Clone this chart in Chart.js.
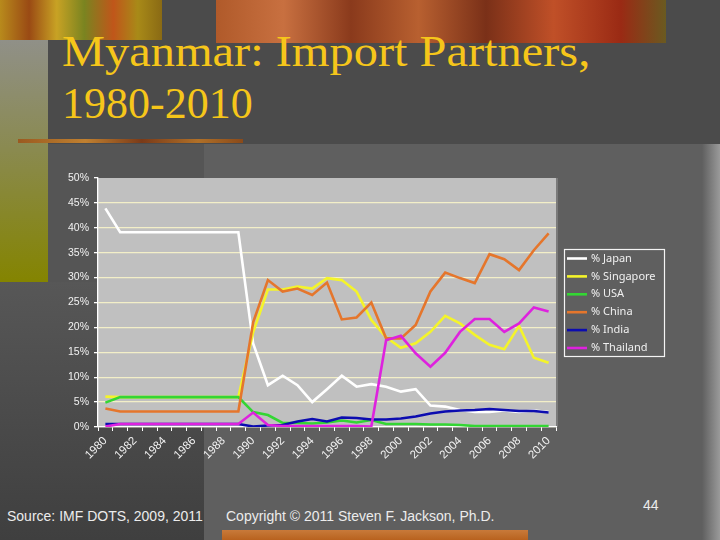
<!DOCTYPE html>
<html>
<head>
<meta charset="utf-8">
<script src="https://cdn.jsdelivr.net/npm/chart.js@4.4.1/dist/chart.umd.min.js"></script>
<style>
  html, body { margin: 0; padding: 0; width: 720px; height: 540px; overflow: hidden; background: #4b4b4b; }
  .abs { position: absolute; }
  .title { position: absolute; left: 62px; color: #f6c61a; font-family: "Liberation Serif", serif; font-size: 44px; white-space: nowrap; line-height: 1; transform-origin: 0 0; }
  .foot { position: absolute; color: #ececec; font-family: "Liberation Sans", Arial, sans-serif; font-size: 14px; white-space: nowrap; line-height: 1; }
  #chart { position: absolute; left: 0; top: 0; }
</style>
</head>
<body>
<!-- slide decoration -->
<div class="abs" style="left:0;top:0;width:162px;height:40px;background:linear-gradient(90deg,#b88a1c,#9a4a14 18%,#c8a224 35%,#7a8420 52%,#c0561a 70%,#a88a18 85%,#8a6a14);"></div>
<div class="abs" style="left:216px;top:0;width:450px;height:43px;background:linear-gradient(90deg,#b05a2a,#c87040 15%,#8a3a1c 30%,#b86030 45%,#7a3018 60%,#c05028 75%,#9a2a14 90%,#6a5a20);"></div>
<div class="abs" style="left:0;top:40px;width:48px;height:242px;background:linear-gradient(180deg,#909088,#8a8a50 45%,#848400);"></div>
<div class="abs" style="left:18px;top:139px;width:225px;height:4px;background:linear-gradient(90deg,#9a5a20,#c08030 30%,#7a3a18 55%,#b07028 80%,#8a4a1a);"></div>
<div class="abs" style="left:48px;top:144px;width:156px;height:138px;background:#555555;"></div>
<div class="abs" style="left:0;top:282px;width:204px;height:258px;background:linear-gradient(180deg,#575757,#3f3f3f);"></div>
<div class="abs" style="left:204px;top:144px;width:498px;height:396px;background:#5f5f5f;"></div>
<div class="abs" style="left:702px;top:144px;width:18px;height:396px;background:linear-gradient(90deg,#5f5f5f,#9a9a9a);"></div>
<div class="abs" style="left:222px;top:530px;width:306px;height:10px;background:linear-gradient(180deg,#c87a3a,#b8621e);"></div>

<div class="title" style="top:30px;transform:scaleX(1.1);">Myanmar: Import Partners,</div>
<div class="title" style="top:82px;">1980-2010</div>

<div class="foot" style="left:7px;top:509px;">Source: IMF DOTS, 2009, 2011</div>
<div class="foot" style="left:226px;top:509px;">Copyright © 2011 Steven F. Jackson, Ph.D.</div>
<div class="foot" style="left:643px;top:498px;">44</div>

<canvas id="chart" width="720" height="540"></canvas>

<script>
// import shares (%)
const years = ['1980', '1981', '1982', '1983', '1984', '1985', '1986', '1987', '1988', '1989',
               '1990', '1991', '1992', '1993', '1994', '1995', '1996', '1997', '1998', '1999',
               '2000', '2001', '2002', '2003', '2004', '2005', '2006', '2007', '2008', '2009', '2010'];

const japan     = [43.9, 39.1, 39.1, 39.1, 39.1, 39.1, 39.1, 39.1, 39.1, 39.1,
                   16.8, 8.4, 10.3, 8.4, 5.0, 7.6, 10.3, 8.1, 8.6, 8.1,
                   7.1, 7.6, 4.3, 4.1, 3.4, 3.0, 3.0, 3.3, 3.0, 3.3, 3.0];
const singapore = [6.1, 6.0, 6.0, 6.0, 6.0, 6.0, 6.0, 6.0, 6.0, 6.0,
                   19.0, 27.6, 27.6, 28.2, 27.8, 29.9, 29.5, 27.2, 21.5, 18.0,
                   15.9, 16.8, 19.1, 22.3, 20.8, 18.5, 16.5, 15.6, 20.3, 13.9, 12.9];
const usa       = [4.9, 6.0, 6.0, 6.0, 6.0, 6.0, 6.0, 6.0, 6.0, 6.0,
                   3.0, 2.4, 0.8, 0.8, 0.7, 0.9, 1.3, 0.9, 1.4, 0.6,
                   0.6, 0.6, 0.5, 0.5, 0.4, 0.2, 0.2, 0.2, 0.2, 0.2, 0.2];
const china     = [3.7, 3.1, 3.1, 3.1, 3.1, 3.1, 3.1, 3.1, 3.1, 3.1,
                   21.0, 29.5, 27.2, 27.8, 26.5, 29.0, 21.6, 22.0, 25.0, 17.8,
                   17.8, 20.5, 27.2, 31.0, 29.9, 28.9, 34.7, 33.7, 31.5, 35.5, 38.9];
const india     = [0.6, 0.6, 0.6, 0.6, 0.6, 0.6, 0.6, 0.6, 0.6, 0.6,
                   0.1, 0.3, 0.4, 1.1, 1.6, 1.1, 1.9, 1.8, 1.5, 1.5,
                   1.7, 2.1, 2.7, 3.1, 3.3, 3.4, 3.6, 3.4, 3.2, 3.2, 2.9];
const thailand  = [0.1, 0.6, 0.6, 0.6, 0.6, 0.6, 0.6, 0.6, 0.6, 0.6,
                   2.9, 0.4, 0.2, 0.2, 0.2, 0.2, 0.2, 0.2, 0.1, 17.4,
                   18.3, 14.8, 12.1, 14.9, 19.1, 21.7, 21.7, 19.1, 20.8, 24.0, 23.2];

const seriesNames = ['% Japan', '% Singapore', '% USA', '% China', '% India', '% Thailand'];
const seriesData = [japan, singapore, usa, china, india, thailand];
const seriesColors = ['#ffffff', '#f4f42a', '#33d633', '#e5762c', '#0c0cb0', '#de22de'];

// Excel draws later series on top; lower "order" is drawn last in Chart.js
const datasets = seriesNames.map((name, i) => ({
    label: name,
    data: seriesData[i],
    borderColor: seriesColors[i],
    backgroundColor: seriesColors[i],
    borderWidth: 2.6,
    pointRadius: 0,
    tension: 0,
    fill: false,
    order: seriesNames.length - i
}));

const plotBackground = {
    id: 'plotBackground',
    beforeDraw(chart) {
        const { ctx, chartArea: a } = chart;
        ctx.save();
        ctx.fillStyle = '#c0c0c0';
        ctx.fillRect(a.left, a.top, a.right - a.left, a.bottom - a.top);
        ctx.fillStyle = '#7a7a7a';
        ctx.fillRect(a.right, a.top, 2, a.bottom - a.top);
        ctx.restore();
    }
};

// boxed legend to the right of the plot, like the slide
const boxLegend = {
    id: 'boxLegend',
    afterDraw(chart) {
        const ctx = chart.ctx;
        const x0 = 564.5, y0 = 249.5, rowH = 17.9;
        ctx.save();
        ctx.fillStyle = '#5f5f5f';
        ctx.fillRect(x0, y0, 100, 107);
        ctx.strokeStyle = '#f4f4f4';
        ctx.lineWidth = 1.2;
        ctx.strokeRect(x0, y0, 100, 107);
        ctx.font = '11px "Noto Sans", sans-serif';
        ctx.textBaseline = 'middle';
        ctx.textAlign = 'left';
        chart.data.datasets.forEach((ds, i) => {
            const y = 258.5 + i * rowH;
            ctx.strokeStyle = ds.borderColor;
            ctx.lineWidth = 2.6;
            ctx.beginPath();
            ctx.moveTo(567, y);
            ctx.lineTo(587, y);
            ctx.stroke();
            ctx.fillStyle = '#f0f0f0';
            ctx.fillText(ds.label, 591, y);
        });
        ctx.restore();
    }
};

const ctx = document.getElementById('chart').getContext('2d');
const importChart = new Chart(ctx, {
    type: 'line',
    data: { labels: years, datasets: datasets },
    options: {
        responsive: false,
        animation: false,
        devicePixelRatio: 1,
        layout: { padding: { left: 50, top: 178, right: 164, bottom: 53 } },
        plugins: {
            legend: { display: false },
            tooltip: { enabled: false }
        },
        scales: {
            x: {
                offset: true,
                afterFit: (scale) => { scale.height = 60; },
                grid: {
                    offset: true,
                    drawOnChartArea: false,
                    tickLength: 4,
                    tickColor: '#ffffff'
                },
                border: { color: '#ffffff', width: 1.3 },
                ticks: {
                    autoSkip: false,
                    minRotation: 45,
                    maxRotation: 45,
                    padding: 3,
                    color: '#f2f2f2',
                    font: { family: '"Liberation Sans", sans-serif', size: 11.5 },
                    callback: function(value, index) {
                        return index % 2 === 0 ? this.getLabelForValue(value) : '';
                    }
                }
            },
            y: {
                min: 0,
                max: 50,
                afterFit: (scale) => { scale.width = 48; },
                grid: {
                    color: (c) => c.tick && c.tick.value === 50 ? 'rgba(0,0,0,0)' : '#f3efc8',
                    lineWidth: 1.3,
                    tickLength: 4,
                    tickColor: '#ffffff'
                },
                border: { color: '#ffffff', width: 1.3 },
                ticks: {
                    stepSize: 5,
                    padding: 5,
                    color: '#f2f2f2',
                    font: { family: '"Liberation Sans", sans-serif', size: 10.5 },
                    callback: (v) => v + '%'
                }
            }
        }
    },
    plugins: [plotBackground, boxLegend]
});
</script>
</body>
</html>
